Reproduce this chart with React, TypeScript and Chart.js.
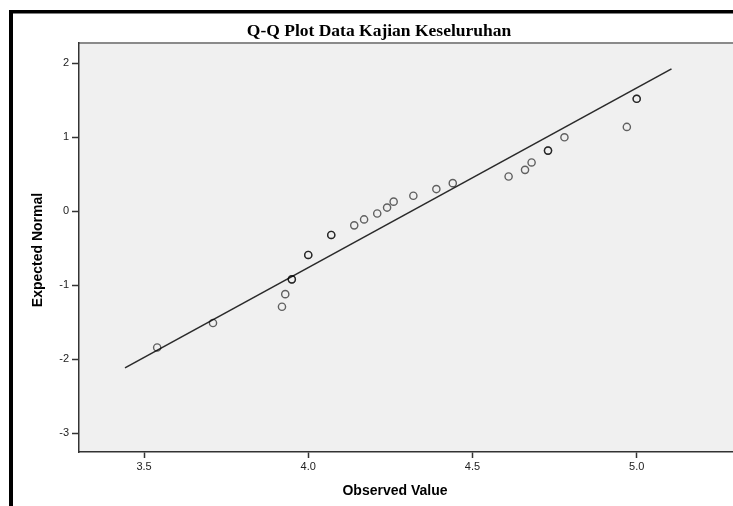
import React, { useEffect, useRef } from "react";
import { Chart, registerables } from "chart.js";

Chart.register(...registerables);

const chartTitle = "Q-Q Plot Data Kajian Keseluruhan";
const xAxisTitle = "Observed Value";
const yAxisTitle = "Expected Normal";

const observedValues = [3.54, 3.71, 3.92, 3.93, 3.95, 3.95, 4.0, 4.0, 4.07, 4.07, 4.14, 4.17, 4.21, 4.24, 4.26, 4.32, 4.39, 4.44, 4.61, 4.66, 4.68, 4.73, 4.73, 4.78, 4.97, 5.0, 5.0];
const expectedNormal = [-1.84, -1.51, -1.29, -1.12, -0.92, -0.92, -0.59, -0.59, -0.32, -0.32, -0.19, -0.11, -0.03, 0.05, 0.13, 0.21, 0.3, 0.38, 0.47, 0.56, 0.66, 0.82, 0.82, 1.0, 1.14, 1.52, 1.52];

const refLineX = [3.442, 5.106];
const refLineY = [-2.116, 1.924];

const xTicks = [3.5, 4.0, 4.5, 5.0];
const yTicks = [-3, -2, -1, 0, 1, 2];

const X_MIN = 3.302;
const X_MAX = 5.292;
const Y_MIN = -3.253;
const Y_MAX = 2.274;

export default function App() {
  const ref = useRef<HTMLCanvasElement | null>(null);

  useEffect(() => {
    if (!ref.current) return;
    const decor = {
      id: "decor",
      beforeDraw(chart: any) {
        const { ctx, chartArea: a } = chart;
        ctx.save();
        ctx.fillStyle = "#ffffff";
        ctx.fillRect(0, 0, chart.width, chart.height);
        ctx.fillStyle = "#f0f0f0";
        ctx.fillRect(a.left, a.top, chart.width - a.left, a.bottom - a.top);
        ctx.strokeStyle = "#8a8a8a";
        ctx.lineWidth = 2;
        ctx.beginPath();
        ctx.moveTo(a.left, a.top);
        ctx.lineTo(chart.width, a.top);
        ctx.stroke();
        ctx.fillStyle = "#000000";
        ctx.fillRect(9, 10, 4, chart.height - 10);
        ctx.fillRect(9, 10, chart.width - 9, 3.5);
        ctx.restore();
      },
      afterDraw(chart: any) {
        const { ctx } = chart;
        ctx.save();
        ctx.fillStyle = "#000000";
        ctx.textAlign = "center";
        ctx.textBaseline = "middle";
        ctx.font = "bold 17.5px 'Liberation Serif', serif";
        ctx.fillText(chartTitle, 379, 31);
        ctx.font = "bold 14px 'Liberation Sans', Arial, sans-serif";
        ctx.fillText(xAxisTitle, 395, 491);
        ctx.translate(38, 250);
        ctx.rotate(-Math.PI / 2);
        ctx.fillText(yAxisTitle, 0, 0);
        ctx.restore();
      },
    };

    const chart = new Chart(ref.current, {
      type: "scatter",
      data: {
        datasets: [
          {
            type: "line",
            data: refLineX.map((x, i) => ({ x, y: refLineY[i] })),
            borderColor: "#2a2a2a",
            borderWidth: 1.6,
            pointRadius: 0,
            fill: false,
            order: 2,
          } as any,
          {
            type: "scatter",
            data: observedValues.map((x, i) => ({ x, y: expectedNormal[i] })),
            pointStyle: "circle",
            pointRadius: 3.6,
            borderWidth: 1.4,
            borderColor: "rgba(0,0,0,0.6)",
            backgroundColor: "rgba(0,0,0,0)",
            order: 1,
          },
        ],
      },
      options: {
        responsive: false,
        animation: false,
        layout: { padding: { left: 0, top: 43, right: 0, bottom: 0 } },
        plugins: {
          legend: { display: false },
          tooltip: { enabled: false },
          title: { display: false },
        },
        scales: {
          x: {
            type: "linear",
            min: X_MIN,
            max: X_MAX,
            afterBuildTicks: (scale: any) => {
              scale.ticks = xTicks.map((v) => ({ value: v }));
            },
            afterFit: (scale: any) => {
              scale.height = 54;
            },
            grid: {
              display: true,
              drawOnChartArea: false,
              drawTicks: true,
              tickLength: 6,
              tickWidth: 1.5,
              tickColor: "#333333",
            },
            border: { display: true, color: "#333333", width: 1.5 },
            ticks: {
              color: "#222222",
              font: { family: "'Liberation Sans', Arial, sans-serif", size: 11 },
              padding: 2,
              maxRotation: 0,
              callback: (v: any) => Number(v).toFixed(1),
            },
          },
          y: {
            type: "linear",
            min: Y_MIN,
            max: Y_MAX,
            afterBuildTicks: (scale: any) => {
              scale.ticks = yTicks.map((v) => ({ value: v }));
            },
            afterFit: (scale: any) => {
              scale.width = 79;
            },
            grid: {
              display: true,
              drawOnChartArea: false,
              drawTicks: true,
              tickLength: 7,
              tickWidth: 1.5,
              tickColor: "#333333",
            },
            border: { display: true, color: "#333333", width: 1.5 },
            ticks: {
              color: "#222222",
              font: { family: "'Liberation Sans', Arial, sans-serif", size: 11 },
              padding: 3,
              callback: (v: any) => String(v),
            },
          },
        },
      },
      plugins: [decor],
    });
    return () => chart.destroy();
  }, []);

  return (
    <div style={{ position: "fixed", left: 0, top: 0, width: 733, height: 506, overflow: "hidden" }}>
      <canvas ref={ref} width={738} height={506} style={{ display: "block" }} />
    </div>
  );
}
